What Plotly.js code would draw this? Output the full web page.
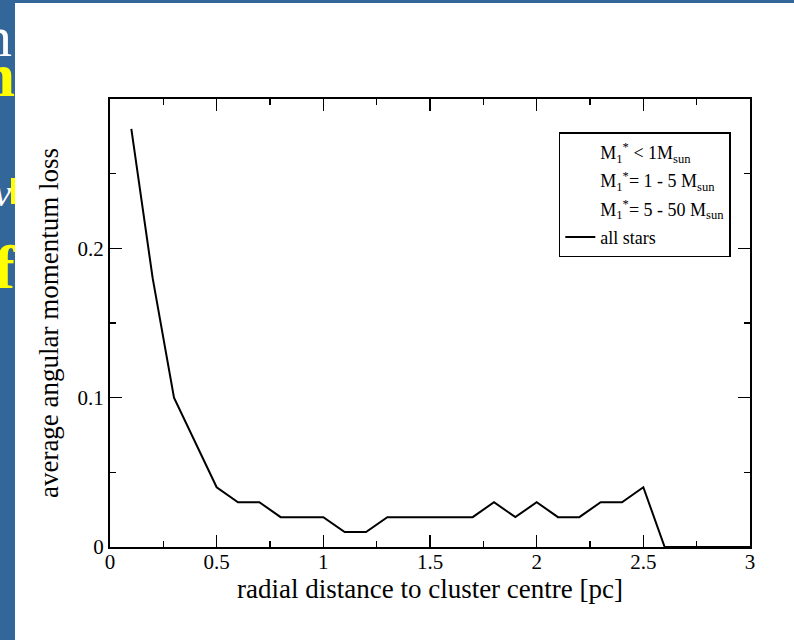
<!DOCTYPE html>
<html>
<head>
<meta charset="utf-8">
<script src="https://cdn.plot.ly/plotly-3.0.1.min.js"></script>
<style>
  html, body { margin:0; padding:0; width:794px; height:640px; overflow:hidden; background:#336699; }
  #bg { position:absolute; left:0; top:0; width:794px; height:640px; font-family:"Liberation Serif","DejaVu Serif",serif; }
  .frag { position:absolute; white-space:nowrap; line-height:1; }
  #plot { position:absolute; left:15px; top:3px; width:779px; height:637px; background:#fff; }
</style>
</head>
<body>
<div id="bg">
  <span class="frag" style="right:782px; top:8px; font-size:58px; color:#fff;">tion</span>
  <span class="frag" style="right:779px; top:44px; font-size:62px; color:#ffff00; font-weight:bold;">un</span>
  <span class="frag" style="right:783px; top:174px; font-size:38px; color:#fff; font-style:italic;">ov</span>
  <span class="frag" style="left:11px; top:178px; width:4px; height:26px; background:#ffff00;"></span>
  <span class="frag" style="right:779px; top:236px; font-size:62px; color:#ffff00; font-weight:bold;">of</span>
</div>
<div id="plot"></div>
<script>
// data
const radius = [0.1,0.2,0.3,0.4,0.5,0.6,0.7,0.8,0.9,1.0,1.1,1.2,1.3,1.4,1.5,1.6,1.7,1.8,1.9,2.0,2.1,2.2,2.3,2.4,2.5,2.6,2.7,2.8,2.9,3.0];
const lossAll = [0.28,0.18,0.10,0.07,0.04,0.03,0.03,0.02,0.02,0.02,0.01,0.01,0.02,0.02,0.02,0.02,0.02,0.03,0.02,0.03,0.02,0.02,0.03,0.03,0.04,0,0,0,0,0];
const seriesNames = [
  "M<sub>1</sub><sup>*</sup> &lt; 1M<sub>sun</sub>",
  "M<sub>1</sub><sup>*</sup>= 1 - 5 M<sub>sun</sub>",
  "M<sub>1</sub><sup>*</sup>= 5 - 50 M<sub>sun</sub>",
  "all stars"
];
const xTickVals = [0,0.5,1,1.5,2,2.5,3];
const xTickText = ["0","0.5","1","1.5","2","2.5","3"];
const yTickVals = [0,0.1,0.2];
const yTickText = ["0","0.1","0.2"];
const xTitle = "radial distance to cluster centre [pc]";
const yTitle = "average angular momentum loss";

const serif = "Liberation Serif, Times New Roman, serif";
const traces = [];
for (let i = 0; i < 3; i++) {
  traces.push({x: [null], y: [null], mode: 'lines', name: seriesNames[i], legendgroup: 'g' + i,
               line: {color: 'rgba(0,0,0,0)', width: 0.01}, showlegend: true});
}
traces.push({x: radius, y: lossAll, mode: 'lines', name: seriesNames[3], legendgroup: 'g3', line: {color: '#000', width: 2}});

const axisCommon = {
  showgrid: false, zeroline: false, showline: true, linecolor: '#000', linewidth: 2,
  mirror: 'ticks', ticks: 'inside', ticklen: 12, tickwidth: 1.5, tickcolor: '#000',
  tickfont: {family: serif, size: 21, color: '#000'}
};
const layout = {
  width: 779, height: 637,
  margin: {l: 95, r: 44, t: 96, b: 93},
  paper_bgcolor: '#fff', plot_bgcolor: '#fff',
  font: {family: serif, color: '#000'},
  xaxis: Object.assign({}, axisCommon, {
    range: [0, 3], tickmode: 'array', tickvals: xTickVals, ticktext: xTickText,
    ticklabelstandoff: -5,
    minor: {dtick: 0.25, tick0: 0, ticks: 'inside', ticklen: 6, tickwidth: 1.5, tickcolor: '#000', showgrid: false},
    title: {text: xTitle, font: {family: serif, size: 27, color: '#000'}, standoff: 0}
  }),
  yaxis: Object.assign({}, axisCommon, {
    range: [0, 0.3], tickmode: 'array', tickvals: yTickVals, ticktext: yTickText,
    minor: {dtick: 0.05, tick0: 0, ticks: 'inside', ticklen: 6, tickwidth: 1.5, tickcolor: '#000', showgrid: false},
    title: {text: yTitle, font: {family: serif, size: 27, color: '#000'}, standoff: 11}
  }),
  legend: {
    x: 0.970, xanchor: 'right', y: 0.926, yanchor: 'top',
    bgcolor: '#fff', bordercolor: '#000', borderwidth: 1.5,
    font: {family: serif, size: 18, color: '#000'},
    tracegroupgap: 2
  },
  showlegend: true
};
Plotly.newPlot('plot', traces, layout, {staticPlot: true, displayModeBar: false});
</script>
</body>
</html>
